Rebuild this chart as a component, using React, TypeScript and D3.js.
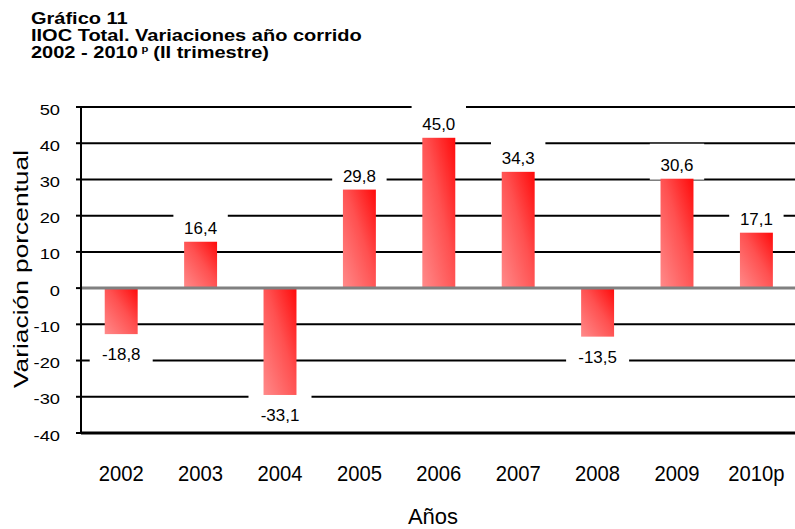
import React from "react";
import * as d3 from "d3";

const categories = ["2002", "2003", "2004", "2005", "2006", "2007", "2008", "2009", "2010p"];
// bar heights as drawn in the reference
const barValues = [-12.7, 12.8, -29.5, 27.2, 41.5, 32.1, -13.4, 30.2, 15.3];
// printed data labels
const valueLabels = ["-18,8", "16,4", "-33,1", "29,8", "45,0", "34,3", "-13,5", "30,6", "17,1"];
const yTicks = [-40, -30, -20, -10, 0, 10, 20, 30, 40, 50];

const W = 795;
const H = 529;
const LEFT = 81;
const TOP = 107;
const BOTTOM = 433;

export default function App() {
  const x = d3
    .scaleBand<string>()
    .domain(categories)
    .range([LEFT + 0.5, LEFT + 0.5 + 9 * 79.4])
    .paddingInner(0.585)
    .paddingOuter(0.2925);
  const y = d3.scaleLinear().domain([-40, 50]).range([BOTTOM, TOP]);
  const bw = x.bandwidth();
  const font = "'Liberation Sans', Arial, sans-serif";

  const labelPos = (v: number) => (v >= 0 ? y(v) - 8 : y(v) + 26);

  return (
    <svg
      width={W}
      height={H}
      style={{ position: "absolute", left: 0, top: 0, background: "#fff" }}
      fontFamily={font}
    >
      <defs>
        <linearGradient id="barGrad" x1="0" y1="1" x2="1" y2="0">
          <stop offset="0%" stopColor="#ff8a8a" />
          <stop offset="55%" stopColor="#ff5050" />
          <stop offset="100%" stopColor="#ff0a0a" />
        </linearGradient>
      </defs>
      <rect x={0} y={0} width={W} height={H} fill="#fff" />

      {/* Title */}
      <g fontWeight="bold" fontSize={16} fill="#000" transform="translate(31,0) scale(1.25,1)">
        <text x={0} y={24}>Gráfico 11</text>
        <text x={0} y={41}>IIOC Total. Variaciones año corrido</text>
        <text x={0} y={58}>
          2002 - 2010
          <tspan fontSize={9} dy={-6} dx={3}>p</tspan>
          <tspan dy={6} dx={4}>(II trimestre)</tspan>
        </text>
      </g>

      {/* gridlines */}
      {yTicks.filter((t) => t !== 0 && t !== -40).map((t) => (
        <line key={t} x1={LEFT} x2={W} y1={y(t)} y2={y(t)} stroke="#000" strokeWidth={2} />
      ))}
      {/* ticks and tick labels */}
      {yTicks.map((t) => (
        <g key={"t" + t}>
          <line x1={76} x2={LEFT} y1={y(t)} y2={y(t)} stroke="#000" strokeWidth={2} />
          <text
            transform={`translate(60,${y(t) + 7.5}) scale(1.22,1)`}
            textAnchor="end"
            fontSize={15}
            fill="#000"
          >
            {t}
          </text>
        </g>
      ))}

      {/* label background boxes */}
      {categories.map((c, i) => {
        const cx = (x(c) as number) + bw / 2;
        const by = labelPos(barValues[i]);
        const tw = valueLabels[i].length * 8.6;
        return (
          <rect
            key={"bg" + c}
            x={cx - tw / 2 - 10}
            y={by - 27}
            width={tw + 20}
            height={36}
            fill="#fff"
          />
        );
      })}

      {/* bars */}
      {categories.map((c, i) => {
        const v = barValues[i];
        const y0 = y(Math.max(0, v));
        const h = Math.abs(y(v) - y(0));
        return <rect key={c} x={x(c)} y={y0} width={bw} height={h} fill="url(#barGrad)" />;
      })}

      {/* zero line */}
      <line x1={LEFT} x2={W} y1={y(0)} y2={y(0)} stroke="#808080" strokeWidth={3} />
      {/* bottom axis */}
      <line x1={LEFT} x2={W} y1={y(-40)} y2={y(-40)} stroke="#000" strokeWidth={3} />
      {/* y axis */}
      <line x1={LEFT} x2={LEFT} y1={TOP - 1} y2={BOTTOM + 1} stroke="#000" strokeWidth={2} />

      {/* value labels */}
      {categories.map((c, i) => {
        const cx = (x(c) as number) + bw / 2;
        return (
          <text
            key={"l" + c}
            transform={`translate(${cx},${labelPos(barValues[i])}) scale(1.06,1)`}
            textAnchor="middle"
            fontSize={16}
            fill="#000"
          >
            {valueLabels[i]}
          </text>
        );
      })}

      {/* x labels */}
      {categories.map((c) => (
        <text
          key={"x" + c}
          transform={`translate(${(x(c) as number) + bw / 2},481) scale(0.92,1)`}
          textAnchor="middle"
          fontSize={22}
          fill="#000"
        >
          {c}
        </text>
      ))}

      <text x={433} y={524} textAnchor="middle" fontSize={22} fill="#000">
        Años
      </text>
      <text
        transform={`translate(28,269) rotate(-90)`}
        textAnchor="middle"
        fontSize={21}
        fill="#000"
        textLength={238}
        lengthAdjust="spacingAndGlyphs"
      >
        Variación porcentual
      </text>
    </svg>
  );
}
